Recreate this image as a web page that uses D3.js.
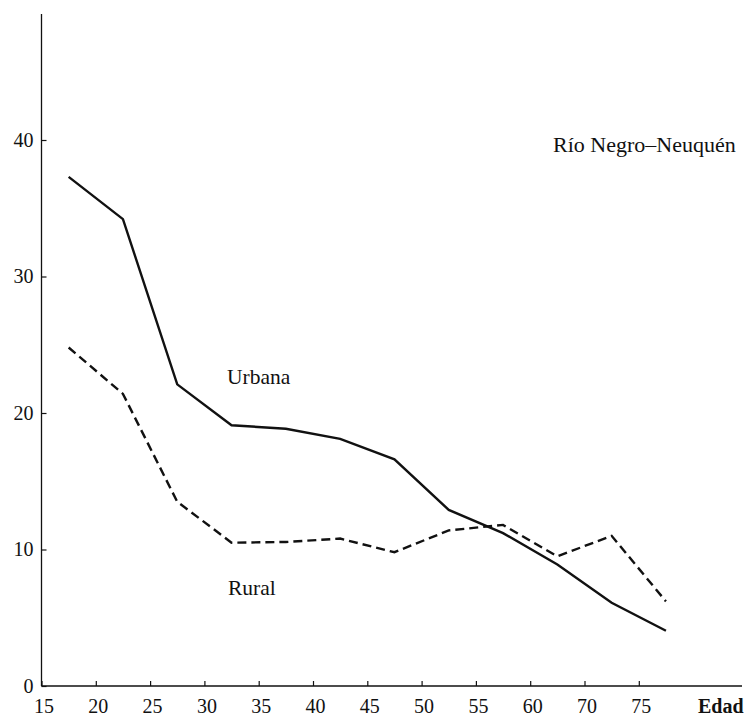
<!DOCTYPE html>
<html>
<head>
<meta charset="utf-8">
<script src="https://cdn.jsdelivr.net/npm/d3@7"></script>
<style>
  html, body { margin: 0; padding: 0; background: #fff; }
  svg { display: block; }
  text { font-family: "Liberation Serif", "Times New Roman", serif; fill: #111; }
</style>
</head>
<body>
<svg id="chart" width="744" height="718"></svg>
<script>
// Age-group boundaries shown on the horizontal axis
const ageTicks = ["15", "20", "25", "30", "35", "40", "45", "50", "55", "60", "70", "75"];
// Values per age group (plotted at the middle of each group)
const urbana = [37.3, 34.2, 22.1, 19.1, 18.85, 18.1, 16.6, 12.9, 11.2, 8.9, 6.1, 4.05];
const rural  = [24.8, 21.4, 13.5, 10.5, 10.55, 10.8, 9.8, 11.4, 11.8, 9.5, 11.0, 6.2];
const yTicks = [0, 10, 20, 30, 40];

const svg = d3.select("#chart");
const ink = "#111";

const x = d3.scaleLinear().domain([0, ageTicks.length]).range([41.5, 41.5 + 54.3 * ageTicks.length]);
const y = d3.scaleLinear().domain([0, 40]).range([686, 140]);

// Axis lines
svg.append("line")
  .attr("x1", x(0)).attr("x2", x(0))
  .attr("y1", y(0)).attr("y2", 14)
  .attr("stroke", ink).attr("stroke-width", 1.3);
svg.append("line")
  .attr("x1", x(0)).attr("x2", 742)
  .attr("y1", y(0)).attr("y2", y(0))
  .attr("stroke", ink).attr("stroke-width", 1.3);

// Y axis ticks and labels
const yAxis = d3.axisLeft(y)
  .tickValues(yTicks)
  .tickFormat(d3.format("d"))
  .tickSizeInner(-5)
  .tickSizeOuter(0)
  .tickPadding(8);
const gy = svg.append("g").attr("transform", `translate(${x(0)},0)`).call(yAxis);
gy.select(".domain").remove();
gy.selectAll(".tick line").attr("stroke", ink).attr("stroke-width", 1.2);
gy.selectAll(".tick text")
  .style("font-family", '"Liberation Serif", serif')
  .style("font-size", "20px")
  .attr("fill", ink);

// X axis ticks and labels
const xAxis = d3.axisBottom(x)
  .tickValues(d3.range(ageTicks.length))
  .tickFormat(i => ageTicks[i])
  .tickSizeInner(-5)
  .tickSizeOuter(0)
  .tickPadding(13);
const gx = svg.append("g").attr("transform", `translate(0,${y(0)})`).call(xAxis);
gx.select(".domain").remove();
gx.selectAll(".tick line").attr("stroke", ink).attr("stroke-width", 1.2);
gx.selectAll(".tick text")
  .attr("dx", 2)
  .style("font-family", '"Liberation Serif", serif')
  .style("font-size", "20px")
  .attr("fill", ink);

// Axis title
svg.append("text")
  .attr("x", 698).attr("y", 713)
  .style("font-size", "20px")
  .style("font-weight", "bold")
  .text("Edad");

// Series lines
const line = d3.line()
  .x((d, i) => x(i + 0.5))
  .y(d => y(d));

svg.append("path")
  .datum(urbana)
  .attr("d", line)
  .attr("fill", "none")
  .attr("stroke", ink)
  .attr("stroke-width", 2.4)
  .attr("stroke-linejoin", "miter");

svg.append("path")
  .datum(rural)
  .attr("d", line)
  .attr("fill", "none")
  .attr("stroke", ink)
  .attr("stroke-width", 2.4)
  .attr("stroke-dasharray", "9,5");

// Annotations
svg.append("text")
  .attr("x", 227).attr("y", 384)
  .style("font-size", "21.5px")
  .text("Urbana");
svg.append("text")
  .attr("x", 228).attr("y", 595)
  .style("font-size", "21.5px")
  .text("Rural");
svg.append("text")
  .attr("x", 553).attr("y", 152)
  .style("font-size", "22px")
  .text("Río Negro–Neuquén");
</script>
</body>
</html>
